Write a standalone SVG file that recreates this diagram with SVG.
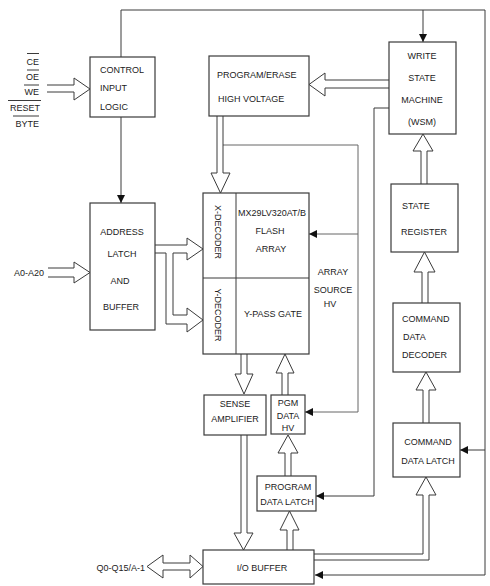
<svg xmlns="http://www.w3.org/2000/svg" width="490" height="586" viewBox="0 0 490 586">
<style>
.box{fill:#fff;stroke:#3a3a3a;stroke-width:1.2}
.ln{fill:none;stroke:#3a3a3a;stroke-width:1}
.gl{fill:none;stroke:#666;stroke-width:1}
.ha{fill:#fff;stroke:#3a3a3a;stroke-width:1}
text{font-family:"Liberation Sans",Arial,sans-serif;font-size:9px;fill:#222}
.m{text-anchor:middle}
.e{text-anchor:end}
</style>
<defs>
<marker id="ah" viewBox="0 0 10 10" refX="10" refY="5" markerWidth="9" markerHeight="8" markerUnits="userSpaceOnUse" orient="auto">
<path d="M0,0 L10,5 L0,10 z" fill="#111"/>
</marker>
</defs>
<rect width="490" height="586" fill="#fff"/>

<g id="connectors">
<path class="ln" d="M121,57 V10 H485 V575 H315" marker-end="url(#ah)"/>
<path class="ln" d="M423,10 V42" marker-end="url(#ah)"/>
<path class="ln" d="M121,117 V203" marker-end="url(#ah)"/>
<path class="ln" d="M485,450 H460" marker-end="url(#ah)"/>
<path class="ln" d="M389,108 H374 V496 H316" marker-end="url(#ah)"/>
<path class="gl" d="M223,145 H358 V412 H305" marker-end="url(#ah)"/>
<path class="gl" d="M358,234 H309" marker-end="url(#ah)"/>
<path class="ha" d="M47,85 H74 V78 L90,89 L74,100 V92 H47"/>
<path class="ha" d="M48,268 H74 V262 L90,272.5 L74,283 V277 H48"/>
<path class="ha" d="M217,116 V173 H211 L220.5,193 L230,173 H223 V116"/>
<path class="ha" d="M389,80 H325 V73 L309,84.5 L325,96 V88 H389"/>
<path class="ha" d="M421,184 V151 H413 L423,134 L433,151 H427 V184"/>
<path class="ha" d="M422,303 V272 H414 L424.5,252 L435,272 H428 V303"/>
<path class="ha" d="M423,423 V390 H416 L426,372 L436,390 H429 V423"/>
<path class="ha" d="M314,554 H423 V495 H416 L426,477 L436,495 H429 V560 H314"/>
<path class="ha" d="M155,245 H187 V238 L203,249 L187,260 V253 H173 V315 H187 V308 L203,320 L187,332 V324 H166 V253 H155"/>
<path class="ha" d="M241,354 V374 H235 L244,394 L253,374 H247 V354"/>
<path class="ha" d="M282,395 V373 H276 L285,354 L294,373 H288 V395"/>
<path class="ha" d="M241,435 V533 H234 L243.5,550 L253,533 H247 V435"/>
<path class="ha" d="M285,476 V453 H278 L288,435 L298,453 H291 V476"/>
<path class="ha" d="M287,550 V530 H280 L289.5,511 L299,530 H293 V550"/>
<path class="ha" d="M147,566.5 L163,555 V563 H190 V555 L203,566.5 L190,578 V570 H163 V578 Z"/>
</g>

<g id="signals">
<text class="e" x="39" y="64.5">CE</text>
<line class="ln" x1="27" y1="53.5" x2="39" y2="53.5"/>
<text class="e" x="39" y="79.5">OE</text>
<line class="ln" x1="27" y1="70" x2="39" y2="70"/>
<text class="e" x="39" y="94.5">WE</text>
<line class="ln" x1="24" y1="85" x2="39" y2="85"/>
<text class="e" x="40" y="110.5">RESET</text>
<line class="ln" x1="8" y1="100.5" x2="41" y2="100.5"/>
<text class="e" x="39" y="126.5">BYTE</text>
<line class="ln" x1="13" y1="116" x2="39" y2="116"/>
<text class="e" x="44" y="275.5">A0-A20</text>
<text class="e" x="145" y="570.5">Q0-Q15/A-1</text>
</g>

<g id="control">
<rect class="box" x="90" y="57" width="65" height="60"/>
<text x="100" y="72.5">CONTROL</text>
<text x="100" y="90.5">INPUT</text>
<text x="100" y="109.5">LOGIC</text>
</g>

<g id="progerase">
<rect class="box" x="209" y="56" width="100" height="60"/>
<text x="217" y="77.5">PROGRAM/ERASE</text>
<text x="218" y="101.5">HIGH VOLTAGE</text>
</g>

<g id="wsm">
<rect class="box" x="389" y="42" width="67" height="92"/>
<text class="m" x="422" y="58.5">WRITE</text>
<text class="m" x="422" y="80.5">STATE</text>
<text class="m" x="422" y="102.5">MACHINE</text>
<text class="m" x="422" y="124.5">(WSM)</text>
</g>

<g id="address">
<rect class="box" x="90" y="203" width="65" height="127"/>
<text class="m" x="122" y="234.5">ADDRESS</text>
<text class="m" x="122" y="256.5">LATCH</text>
<text class="m" x="120" y="283.5">AND</text>
<text class="m" x="121" y="310">BUFFER</text>
</g>

<g id="flash">
<rect class="box" x="203" y="193" width="106" height="161"/>
<line class="ln" x1="236" y1="193" x2="236" y2="354"/>
<line class="ln" x1="203" y1="278" x2="309" y2="278"/>
<text class="m" transform="translate(215,232) rotate(90)">X-DECODER</text>
<text class="m" transform="translate(215,315) rotate(90)">Y-DECODER</text>
<text class="m" x="272" y="215.5">MX29LV320AT/B</text>
<text class="m" x="270" y="233.5">FLASH</text>
<text class="m" x="271" y="251.5">ARRAY</text>
<text class="m" x="273" y="316.5">Y-PASS GATE</text>
</g>

<g id="arraysource">
<text class="m" x="333" y="274.5">ARRAY</text>
<text class="m" x="333" y="292.5">SOURCE</text>
<text class="m" x="330" y="306.5">HV</text>
</g>

<g id="statereg">
<rect class="box" x="391" y="184" width="67" height="68"/>
<text x="402" y="208.5">STATE</text>
<text x="401" y="234.5">REGISTER</text>
</g>

<g id="cmddecoder">
<rect class="box" x="393" y="303" width="67" height="69"/>
<text x="402" y="321.5">COMMAND</text>
<text x="403" y="339.5">DATA</text>
<text x="402" y="357.5">DECODER</text>
</g>

<g id="cmdlatch">
<rect class="box" x="393" y="423" width="67" height="54"/>
<text class="m" x="428" y="444.5">COMMAND</text>
<text class="m" x="428" y="463.5">DATA LATCH</text>
</g>

<g id="sense">
<rect class="box" x="204" y="395" width="62" height="40"/>
<text class="m" x="235" y="406.5">SENSE</text>
<text class="m" x="235" y="421.5">AMPLIFIER</text>
</g>

<g id="pgmhv">
<rect class="box" x="271" y="395" width="34" height="39"/>
<text class="m" x="288" y="406">PGM</text>
<text class="m" x="288" y="419">DATA</text>
<text class="m" x="288" y="430.5">HV</text>
</g>

<g id="pgmlatch">
<rect class="box" x="257" y="476" width="59" height="35"/>
<text class="m" x="288" y="490">PROGRAM</text>
<text class="m" x="287" y="504.5">DATA LATCH</text>
</g>

<g id="iobuffer">
<rect class="box" x="203" y="550" width="111" height="34"/>
<text class="m" x="262" y="570.5">I/O BUFFER</text>
</g>
</svg>
